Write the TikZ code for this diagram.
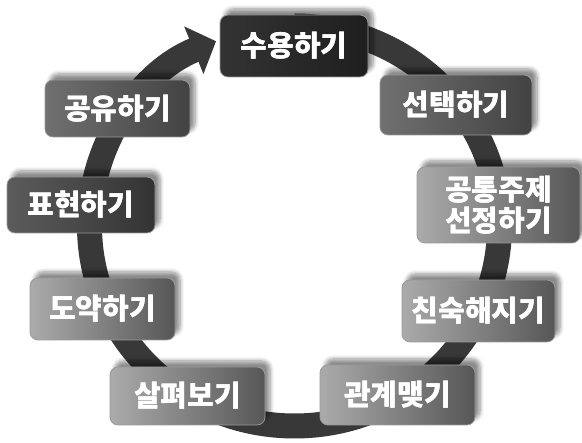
\documentclass[tikz,border=0pt]{standalone}
\usepackage{fontspec}
\usepackage[outline]{contour}
\contourlength{0.7pt}
\contournumber{24}
\newfontfamily\kr{Noto Sans CJK KR}
\newcommand{\wt}[1]{\contour{white}{#1}}
\usetikzlibrary{arrows.meta,shadows.blur}
\begin{document}
\begin{tikzpicture}[x=1pt,y=1pt,
  stepbox/.style={rounded corners=8pt, draw=black!40, line width=0.8pt, text=white,
    font=\kr\bfseries\fontsize{29}{31}\selectfont, align=center, inner sep=0pt,
    blur shadow={shadow xshift=5pt, shadow yshift=6pt, shadow blur steps=6, shadow opacity=45, shadow blur radius=4pt}},
  darkbox/.style={stepbox, left color=black!80, right color=black!88},
  darkmidbox/.style={stepbox, left color=black!64, right color=black!80},
  midbox/.style={stepbox, left color=black!56, right color=black!74},
  lightbox/.style={stepbox, left color=black!33, right color=black!66},
  ring/.style={line width=25pt, draw=black!78}
]
\useasboundingbox (0,0) rectangle (582,443);
\coordinate (c) at (294.5,217);
\coordinate (top) at (294.5,417);
\draw[ring, -{Triangle[width=50pt,length=24pt]}] (top) arc[start angle=90, end angle=-247.5, x radius=205pt, y radius=200pt];
\node[darkbox, minimum width=148pt, minimum height=62pt] (n1) at (294,397) {\wt{수용하기}};
\node[midbox, minimum width=152pt, minimum height=60pt] (n2) at (456,338) {\wt{선택하기}};
\node[lightbox, minimum width=163pt, minimum height=76pt] (n3) at (498.5,238) {\wt{공통주제}\\\wt{선정하기}};
\node[lightbox, minimum width=153pt, minimum height=62pt] (n4) at (478.5,132) {\wt{친숙해지기}};
\node[lightbox, minimum width=155pt, minimum height=60pt] (n5) at (397.5,48) {\wt{관계맺기}};
\node[lightbox, minimum width=155pt, minimum height=58pt] (n6) at (187.5,47) {\wt{살펴보기}};
\node[lightbox, minimum width=145pt, minimum height=62pt] (n7) at (102.5,134) {\wt{도약하기}};
\node[darkmidbox, minimum width=148pt, minimum height=56pt] (n8) at (81,238) {\wt{표현하기}};
\node[midbox, minimum width=145pt, minimum height=57pt] (n9) at (117.5,334.5) {\wt{공유하기}};
\end{tikzpicture}
\end{document}
